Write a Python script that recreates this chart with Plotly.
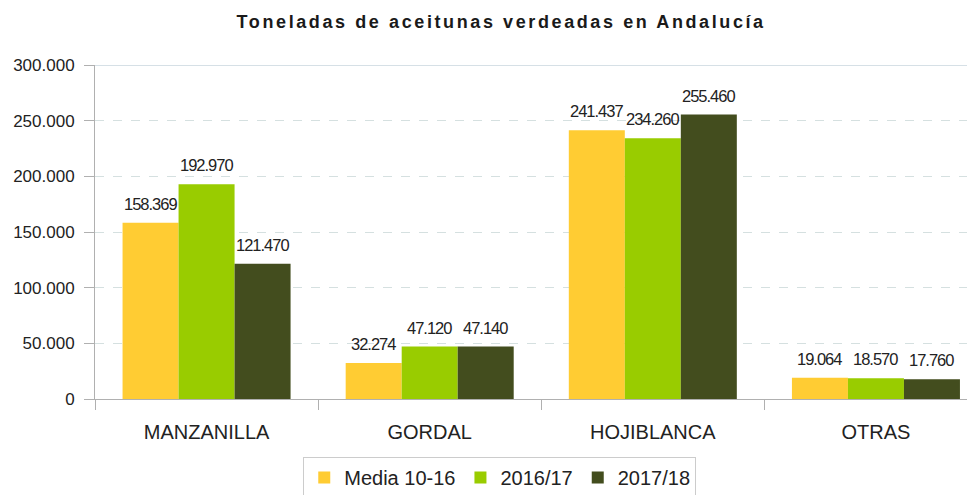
import plotly.graph_objects as go

categories = ["MANZANILLA", "GORDAL", "HOJIBLANCA", "OTRAS"]
series_names = ["Media 10-16", "2016/17", "2017/18"]
media_10_16 = [158369, 32274, 241437, 19064]
s_2016_17 = [192970, 47120, 234260, 18570]
s_2017_18 = [121470, 47140, 255460, 17760]
y_ticks = [0, 50000, 100000, 150000, 200000, 250000, 300000]

colors = ["#FFCC33", "#99CC00", "#434D1E"]
values = [media_10_16, s_2016_17, s_2017_18]

W, H = 967, 487
ML, MR, MT, MB = 87, 2, 57, 96
XR = [-0.5, 3.435]
BARGAP = 0.247

fig = go.Figure()
for name, vals, col in zip(series_names, values, colors):
    fig.add_trace(go.Bar(
        x=categories, y=vals, name=name, marker_color=col, marker_line_width=0,
    ))

# data labels as annotations offset to each bar of the group
cat_px = (W - ML - MR) / (XR[1] - XR[0])
bar_px = cat_px * (1 - BARGAP) / len(values)
for i, vals in enumerate(values):
    off = (i - (len(values) - 1) / 2) * bar_px
    for c, v in zip(categories, vals):
        lbl = f"{v:,}".replace(",", ".")
        fig.add_annotation(
            x=c, y=v, xref="x", yref="y", xshift=off, yshift=8,
            yanchor="bottom", xanchor="center", showarrow=False,
            text=f"<span style=\"letter-spacing:-1px\">{lbl}</span>",
            font=dict(family="Liberation Sans, Arial, sans-serif", size=16.5, color="#222222"),
        )

fig.add_shape(type="line", xref="paper", yref="y", x0=0, x1=1, y0=300000, y1=300000,
              line=dict(color="#C8D6DE", width=1.5), layer="below")

fig.update_layout(
    width=W, height=H,
    paper_bgcolor="white", plot_bgcolor="white",
    separators=",.",
    barmode="group", bargap=BARGAP, bargroupgap=0,
    margin=dict(l=ML, r=MR, t=MT, b=MB, autoexpand=False),
    title=dict(text="<span style=\"letter-spacing:2.6px\"><b>Toneladas de aceitunas verdeadas en Andalucía</b></span>",
               x=0.51, xanchor="center", y=0.972, yanchor="middle",
               font=dict(family="Liberation Sans, Arial, sans-serif", size=18, color="#1a1a1a")),
    font=dict(family="Liberation Sans, Arial, sans-serif", color="#222222"),
    legend=dict(orientation="h", x=0.461, xanchor="center", y=-0.174, yanchor="top",
                bordercolor="#CCCCCC", borderwidth=1, bgcolor="white",
                font=dict(size=20, color="#222222"), itemwidth=30,
                traceorder="normal"),
    showlegend=True,
)

fig.update_xaxes(
    range=XR, tickson="boundaries", ticks="outside", ticklen=10,
    tickcolor="#B0B0B0", showline=True, linecolor="#B0B0B0", linewidth=1,
    showgrid=False, tickfont=dict(size=20, color="#222222"), ticklabelstandoff=15,
)
fig.update_yaxes(
    range=[0, 300000], tickvals=y_ticks, tickformat=",", ticks="outside", ticklen=10,
    tickcolor="#B0B0B0", showline=True, linecolor="#B0B0B0", linewidth=1,
    showgrid=True, gridcolor="#D5E0E0", griddash="dash", gridwidth=1,
    zeroline=False, tickfont=dict(size=17, color="#222222"), ticklabelstandoff=6,
)

fig.write_html("out.html")
